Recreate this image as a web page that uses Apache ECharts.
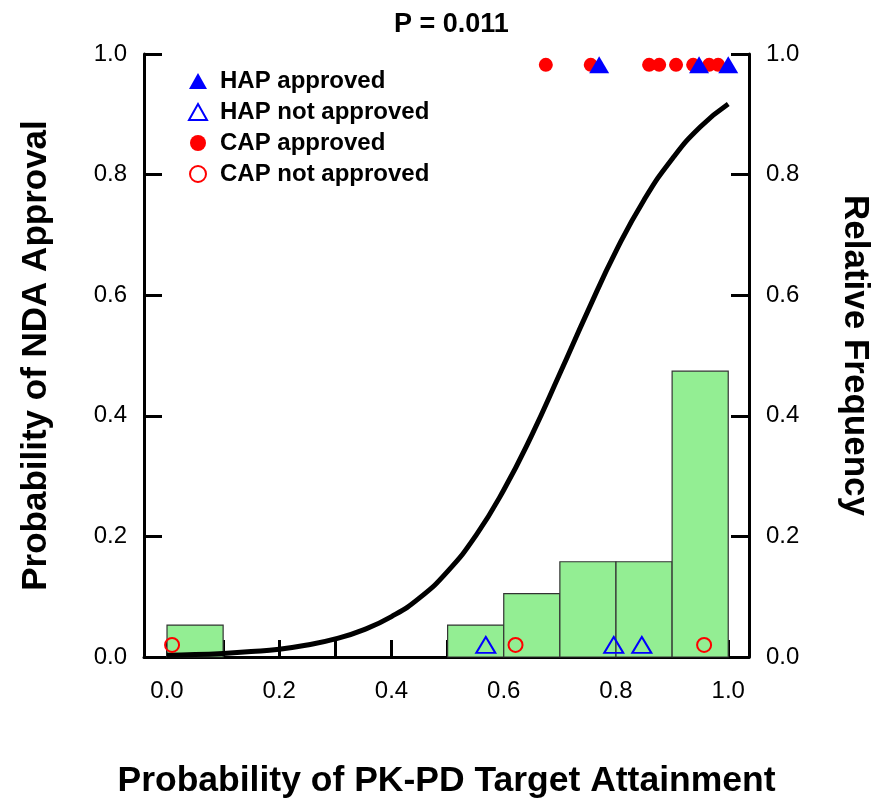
<!DOCTYPE html>
<html><head><meta charset="utf-8">
<script src="https://cdn.jsdelivr.net/npm/echarts@6/dist/echarts.min.js"></script>
<style>html,body{margin:0;padding:0;background:#fff}#c{width:877px;height:801px}</style>
</head><body><div id="c"></div>
<script>
// ---- data ----
const titleText = 'P = 0.011';
const xTicks = [0, 0.1, 0.2, 0.3, 0.4, 0.5, 0.6, 0.7, 0.8, 0.9, 1.0];
const xLabels = [0, 0.2, 0.4, 0.6, 0.8, 1.0];
// histogram bins (right axis, relative frequency)
const binStart = [0.0, 0.5, 0.6, 0.7, 0.8, 0.9];
const binEnd   = [0.1, 0.6, 0.7, 0.8, 0.9, 1.0];
const binFreq  = [0.053, 0.053, 0.105, 0.158, 0.158, 0.474];
// fitted curve
const curveX = [0, 0.05, 0.1, 0.15, 0.2, 0.25, 0.3, 0.35, 0.4, 0.45, 0.5, 0.55, 0.6, 0.65, 0.7, 0.75, 0.8, 0.85, 0.9, 0.95, 1.0];
const curveY = [0.003, 0.004, 0.006, 0.009, 0.013, 0.020, 0.030, 0.045, 0.067, 0.098, 0.142, 0.201, 0.277, 0.368, 0.470, 0.574, 0.673, 0.758, 0.826, 0.879, 0.917];
// individual outcomes
const approvedY = 0.982;
const notApprovedY = 0.02;
const hapApprovedX = [0.770, 0.948, 1.0];
const hapNotApprovedX = [0.568, 0.796, 0.846];
const capApprovedX = [0.675, 0.755, 0.859, 0.877, 0.907, 0.9375, 0.966, 0.982];
const capNotApprovedX = [0.009, 0.621, 0.957];

const zip = (xs, y) => xs.map(x => [x, y]);
const font = 'Liberation Sans, Arial, sans-serif';

const chart = echarts.init(document.getElementById('c'), null, {renderer: 'canvas'});
const axisLineStyle = {color: '#000', width: 3};
const yAxisBase = {
  type: 'value', min: 0, max: 1, interval: 0.2,
  axisLine: {show: true, onZero: false, lineStyle: axisLineStyle},
  axisTick: {show: true, inside: true, length: 18, lineStyle: {color: '#000', width: 3}},
  axisLabel: {color: '#000', fontSize: 24, fontFamily: font, margin: 17, formatter: v => v.toFixed(1)},
  splitLine: {show: false},
  nameLocation: 'middle',
  nameTextStyle: {color: '#000', fontSize: 35, fontWeight: 'bold', fontFamily: font}
};

chart.setOption({
  animation: false,
  backgroundColor: '#fff',
  title: {text: titleText, left: 389, top: 6,
    textStyle: {color: '#000', fontSize: 27, fontWeight: 'bold', fontFamily: font}},
  grid: {left: 144, right: 128, top: 54, bottom: 144, containLabel: false, outerBoundsMode: 'none'},
  legend: {
    orient: 'vertical', left: 183, top: 64, itemGap: 7, itemWidth: 18, itemHeight: 16,
    textStyle: {color: '#000', fontSize: 24, lineHeight: 24, fontWeight: 'bold', fontFamily: font, padding: [0, 0, 0, 8]},
    data: ['HAP approved', 'HAP not approved', 'CAP approved', 'CAP not approved']
  },
  xAxis: {
    type: 'value', min: -0.041, max: 1.037,
    axisLine: {show: true, onZero: false, lineStyle: axisLineStyle},
    axisTick: {show: true, inside: true, length: 17, customValues: xTicks, lineStyle: {color: '#000', width: 3}},
    axisLabel: {color: '#000', fontSize: 24, fontFamily: font, margin: 22, customValues: xLabels, formatter: v => v.toFixed(1)},
    splitLine: {show: false},
    name: 'Probability of PK-PD Target Attainment',
    nameLocation: 'middle', nameGap: 106,
    nameTextStyle: {color: '#000', fontSize: 35.5, fontWeight: 'bold', fontFamily: font}
  },
  yAxis: [
    Object.assign({}, yAxisBase, {position: 'left', name: 'Probability of NDA Approval', nameGap: 90, nameRotate: 90}),
    Object.assign({}, yAxisBase, {position: 'right', name: 'Relative Frequency', nameGap: 88, nameRotate: -90})
  ],
  series: [
    {
      type: 'custom', name: 'hist', yAxisIndex: 1, z: 1,
      data: binStart.map((s, i) => [s, binEnd[i], binFreq[i]]),
      renderItem: (params, api) => {
        const p0 = api.coord([api.value(0), api.value(2)]);
        const p1 = api.coord([api.value(1), 0]);
        return {type: 'rect', shape: {x: p0[0], y: p0[1], width: p1[0] - p0[0], height: p1[1] - p0[1]},
          style: {fill: '#93ee93', stroke: '#333', lineWidth: 1.2}};
      }
    },
    {
      type: 'line', name: 'curve', data: curveX.map((x, i) => [x, curveY[i]]),
      smooth: true, showSymbol: false, symbol: 'none', z: 3,
      lineStyle: {color: '#000', width: 5}
    },
    {type: 'scatter', name: 'CAP approved', data: zip(capApprovedX, approvedY), symbol: 'circle', symbolSize: 14, z: 4,
      itemStyle: {color: '#ff0000', opacity: 1}},
    {type: 'scatter', name: 'HAP approved', data: zip(hapApprovedX, approvedY), symbol: 'triangle', symbolSize: [20, 17], z: 5,
      itemStyle: {color: '#0000ff', opacity: 1}},
    {type: 'scatter', name: 'HAP not approved', data: zip(hapNotApprovedX, notApprovedY), symbol: 'triangle', symbolSize: [19, 16], z: 5,
      itemStyle: {color: 'rgba(0,0,0,0)', borderColor: '#0000ff', borderWidth: 2, opacity: 1}},
    {type: 'scatter', name: 'CAP not approved', data: zip(capNotApprovedX, notApprovedY), symbol: 'circle', symbolSize: 14, z: 5,
      itemStyle: {color: 'rgba(0,0,0,0)', borderColor: '#ff0000', borderWidth: 2, opacity: 1}}
  ]
});
</script></body></html>
